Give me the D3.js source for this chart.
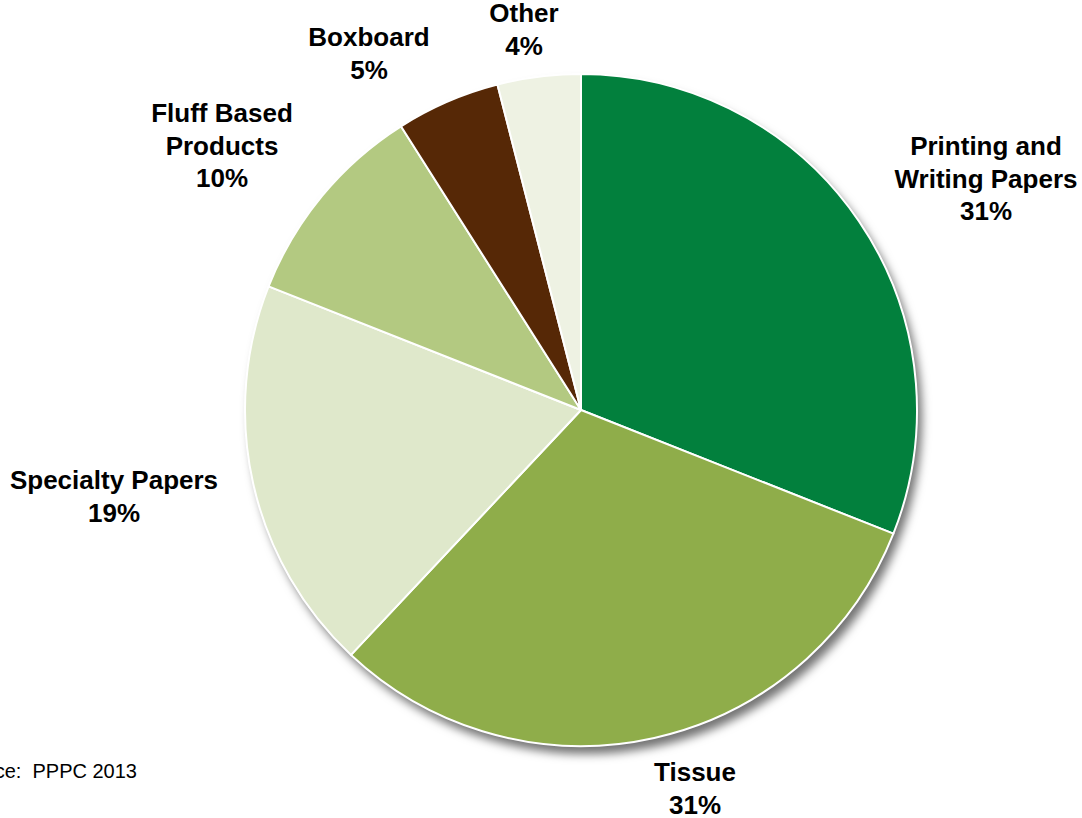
<!DOCTYPE html>
<html>
<head>
<meta charset="utf-8">
<script src="https://cdn.jsdelivr.net/npm/d3@7"></script>
<style>
  html, body { margin: 0; padding: 0; background: #fff; }
  svg { display: block; }
  text { font-family: "Liberation Sans", Arial, sans-serif; }
</style>
</head>
<body>
<svg id="chart" width="1082" height="818"></svg>
<script>
// Paper and paperboard production by grade (share, %)
const categories = ["Printing and Writing Papers", "Tissue", "Specialty Papers", "Fluff Based Products", "Boxboard", "Other"];
const shares = [31, 31, 19, 10, 5, 4];
const colors = ["#02803D", "#8FAD4A", "#DFE8CB", "#B3C981", "#562806", "#EEF2E3"];
// Label lines per slice (category text broken as set on the chart)
const labelLines = [
  ["Printing and", "Writing Papers"],
  ["Tissue"],
  ["Specialty Papers"],
  ["Fluff Based", "Products"],
  ["Boxboard"],
  ["Other"]
];
// Anchor (centre of first line) for each label block
const labelAnchors = [[986, 155], [695, 781], [114, 489], [222, 122], [369, 46], [524, 22]];
const sourceText = "Source:  PPPC 2013";

const svg = d3.select("#chart");
const cx = 581, cy = 410, R = 336;

const defs = svg.append("defs");
const f = defs.append("filter").attr("id", "shadow")
  .attr("x", "-10%").attr("y", "-10%").attr("width", "125%").attr("height", "125%");
f.append("feDropShadow").attr("dx", 5).attr("dy", 8).attr("stdDeviation", 5)
  .attr("flood-color", "#000").attr("flood-opacity", 0.55);

const data = categories.map((c, i) => ({ name: c, value: shares[i], color: colors[i], i }));
const pie = d3.pie().value(d => d.value).sort(null);
const arc = d3.arc().innerRadius(0).outerRadius(R);

const g = svg.append("g").attr("transform", `translate(${cx},${cy})`);

// shadow disc beneath the slices
g.append("circle").attr("r", R).attr("fill", "#fff").attr("filter", "url(#shadow)");

g.selectAll("path.slice")
  .data(pie(data))
  .join("path")
  .attr("class", "slice")
  .attr("d", arc)
  .attr("fill", d => d.data.color)
  .attr("stroke", "#fff")
  .attr("stroke-width", 2)
  .attr("stroke-linejoin", "round");

// labels
const lineH = 32.5;
data.forEach((d, i) => {
  const [x, y] = labelAnchors[i];
  const t = svg.append("text")
    .attr("x", x).attr("y", y)
    .attr("text-anchor", "middle")
    .attr("font-size", 26)
    .attr("font-weight", "bold")
    .attr("fill", "#000");
  const lines = labelLines[i].concat([d.value + "%"]);
  lines.forEach((ln, k) => {
    t.append("tspan").attr("x", x).attr("y", y + k * lineH).text(ln);
  });
});

svg.append("text")
  .attr("x", 137).attr("y", 778)
  .attr("text-anchor", "end")
  .attr("font-size", 20)
  .attr("fill", "#000")
  .style("white-space", "pre")
  .attr("xml:space", "preserve")
  .text(sourceText);
</script>
</body>
</html>
